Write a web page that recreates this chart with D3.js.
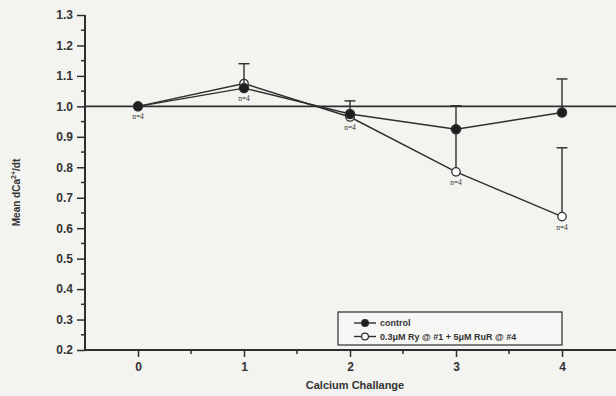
<!DOCTYPE html>
<html>
<head>
<meta charset="utf-8">
<script src="https://cdn.jsdelivr.net/npm/d3@7"></script>
<style>
  html, body { margin: 0; padding: 0; background: #f3f3f0; }
  svg { display: block; }
  text { font-family: "Liberation Sans", Arial, Helvetica, sans-serif; fill: #333; }
</style>
</head>
<body>
<svg id="chart" width="616" height="396"></svg>
<script>
// Calcium challenge index and mean dCa2+/dt per group
const challenges = [0, 1, 2, 3, 4];
const controlMean = [1.0, 1.06, 0.975, 0.925, 0.98];
const controlErr  = [0, 0.08, 0.043, 0.077, 0.11];
const treatedMean = [1.0, 1.075, 0.965, 0.785, 0.638];
const treatedErr  = [0, 0, 0, 0.14, 0.226];
const nLabels     = ["n=4", "n=4", "n=4", "n=4", "n=4"];
const yTicks = [0.2, 0.3, 0.4, 0.5, 0.6, 0.7, 0.8, 0.9, 1.0, 1.1, 1.2, 1.3];
const seriesNames = ["control", "0.3\u03bcM Ry @ #1 + 5\u03bcM RuR @ #4"];

const svg = d3.select("#chart");
const ink = "#2e2e2e";

const x = d3.scaleLinear().domain([-0.5, 4.5]).range([85, 615]);
const y = d3.scaleLinear().domain([0.2, 1.3]).range([350, 15]);

// Y axis with major and half-step minor ticks
const yAxis = svg.append("g").attr("transform", `translate(${x(-0.5)},0)`);
yAxis.call(d3.axisLeft(y).tickValues(yTicks).tickFormat(d3.format(".1f")).tickSize(8).tickPadding(4));
yAxis.select(".domain").remove();
const yMinor = d3.range(0.25, 1.3, 0.1);
yAxis.selectAll(".minor").data(yMinor).join("line")
  .attr("class", "minor")
  .attr("x1", -4).attr("x2", 0)
  .attr("y1", d => y(d)).attr("y2", d => y(d))
  .attr("stroke", ink).attr("stroke-width", 1.5);
yAxis.selectAll(".tick line").attr("stroke", ink).attr("stroke-width", 1.5);
yAxis.selectAll(".tick text").attr("font-size", 12).attr("font-weight", "bold").attr("fill", "#3a3a3a");
svg.append("line")
  .attr("x1", x(-0.5)).attr("x2", x(-0.5))
  .attr("y1", y(1.3)).attr("y2", y(0.2) + 1)
  .attr("stroke", ink).attr("stroke-width", 2);

// X axis with major and half-step minor ticks
const xAxis = svg.append("g").attr("transform", `translate(0,${y(0.2)})`);
xAxis.call(d3.axisBottom(x).tickValues(challenges).tickFormat(d3.format("d")).tickSize(7).tickPadding(5));
xAxis.select(".domain").remove();
xAxis.selectAll(".minor").data([0.5, 1.5, 2.5, 3.5]).join("line")
  .attr("class", "minor")
  .attr("x1", d => x(d)).attr("x2", d => x(d))
  .attr("y1", 0).attr("y2", 4)
  .attr("stroke", ink).attr("stroke-width", 1.5);
xAxis.selectAll(".tick line").attr("stroke", ink).attr("stroke-width", 1.5);
xAxis.selectAll(".tick text").attr("font-size", 12).attr("font-weight", "bold").attr("fill", "#3a3a3a");
svg.append("line")
  .attr("x1", x(-0.5)).attr("x2", 616)
  .attr("y1", y(0.2)).attr("y2", y(0.2))
  .attr("stroke", ink).attr("stroke-width", 2);

// Reference line at 1.0
svg.append("line")
  .attr("x1", x(-0.5)).attr("x2", 616)
  .attr("y1", y(1.0)).attr("y2", y(1.0))
  .attr("stroke", ink).attr("stroke-width", 1.6);

// Axis titles
svg.append("text")
  .attr("transform", `translate(20,${(y(1.3) + y(0.2)) / 2 + 10}) rotate(-90)`)
  .attr("text-anchor", "middle")
  .attr("font-size", 10).attr("font-weight", "bold")
  .html('Mean dCa<tspan dy="-4" font-size="7">2+</tspan><tspan dy="4">/dt</tspan>');
svg.append("text")
  .attr("x", 355).attr("y", 389)
  .attr("text-anchor", "middle")
  .attr("font-size", 11).attr("font-weight", "bold")
  .text("Calcium Challange");

const line = d3.line().x((d, i) => x(challenges[i])).y(d => y(d));
const capHalf = 5.5;

function drawSeries(means, errs, filled) {
  const g = svg.append("g");
  g.append("path").datum(means)
    .attr("d", line).attr("fill", "none")
    .attr("stroke", ink).attr("stroke-width", 1.4);
  const eb = means.map((m, i) => ({ i, m, e: errs[i] })).filter(d => d.e > 0);
  g.selectAll(".stem").data(eb).join("line")
    .attr("x1", d => x(challenges[d.i])).attr("x2", d => x(challenges[d.i]))
    .attr("y1", d => y(d.m)).attr("y2", d => y(d.m + d.e))
    .attr("stroke", ink).attr("stroke-width", 1.4);
  g.selectAll(".cap").data(eb).join("line")
    .attr("x1", d => x(challenges[d.i]) - capHalf).attr("x2", d => x(challenges[d.i]) + capHalf)
    .attr("y1", d => y(d.m + d.e)).attr("y2", d => y(d.m + d.e))
    .attr("stroke", ink).attr("stroke-width", 1.4);
  g.selectAll("circle").data(means).join("circle")
    .attr("cx", (d, i) => x(challenges[i])).attr("cy", d => y(d))
    .attr("r", filled ? 4.6 : 4.2)
    .attr("fill", filled ? "#1e1e1e" : "#ffffff")
    .attr("stroke", ink).attr("stroke-width", 1.3);
}

drawSeries(treatedMean, treatedErr, false);
drawSeries(controlMean, controlErr, true);

// Sample-size labels under the lower marker at each challenge
svg.selectAll(".nlab").data(challenges).join("text")
  .attr("class", "nlab")
  .attr("x", d => x(d))
  .attr("y", (d, i) => y(Math.min(controlMean[i], treatedMean[i])) + 13)
  .attr("text-anchor", "middle")
  .attr("font-family", "'Liberation Serif', 'DejaVu Serif', serif")
  .attr("font-size", 7.5)
  .attr("style", "font-family:'Liberation Serif',serif")
  .text((d, i) => nLabels[i]);

// Legend
const lg = svg.append("g").attr("transform", "translate(338,312)");
lg.append("rect").attr("width", 224).attr("height", 33)
  .attr("fill", "#f6f6f4").attr("stroke", ink).attr("stroke-width", 1.2);
seriesNames.forEach((name, k) => {
  const ly = 11 + k * 13.5;
  lg.append("line").attr("x1", 16).attr("x2", 38).attr("y1", ly).attr("y2", ly)
    .attr("stroke", ink).attr("stroke-width", 1.4);
  lg.append("circle").attr("cx", 27).attr("cy", ly).attr("r", 3.4)
    .attr("fill", k === 0 ? "#1e1e1e" : "#ffffff")
    .attr("stroke", ink).attr("stroke-width", 1.2);
  lg.append("text").attr("x", 42).attr("y", ly + 3.3)
    .attr("font-size", 9).attr("font-weight", "bold")
    .text(name);
});
</script>
</body>
</html>
